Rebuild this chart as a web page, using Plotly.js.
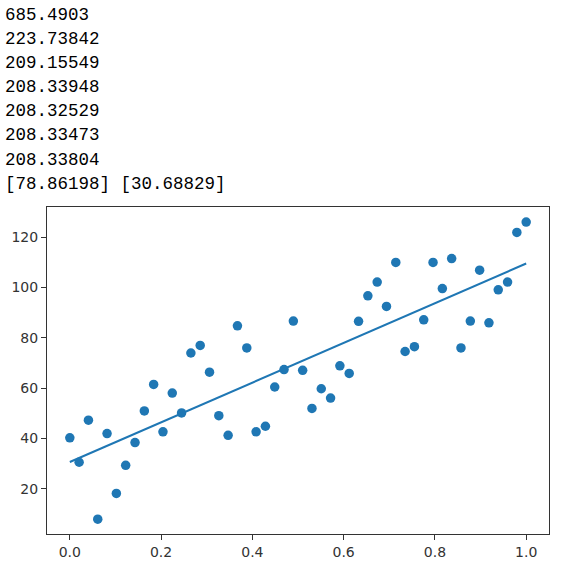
<!DOCTYPE html>
<html>
<head>
<meta charset="utf-8">
<script src="https://cdn.plot.ly/plotly-3.0.1.min.js"></script>
<style>
  html, body { margin: 0; padding: 0; background: #fff; width: 565px; height: 574px; overflow: hidden; }
  #out { position: absolute; left: 5px; top: 3px; font-family: "Liberation Mono", "DejaVu Sans Mono", monospace; font-size: 17.5px; line-height: 24.1px; color: #000; white-space: pre; z-index: 2; pointer-events: none; }
  #chart { position: absolute; left: 0; top: 0; width: 565px; height: 574px; }
</style>
</head>
<body>
<div id="out"></div>
<div id="chart"></div>
<script>
// printed output lines
const outputLines = [
  "685.4903",
  "223.73842",
  "209.15549",
  "208.33948",
  "208.32529",
  "208.33473",
  "208.33804",
  "[78.86198] [30.68829]"
];

// scatter data: 50 points, x = 0 .. 1 evenly spaced
const xValues = [
  0.0000, 0.0204, 0.0408, 0.0612, 0.0816, 0.1020, 0.1224, 0.1429, 0.1633, 0.1837,
  0.2041, 0.2245, 0.2449, 0.2653, 0.2857, 0.3061, 0.3265, 0.3469, 0.3673, 0.3878,
  0.4082, 0.4286, 0.4490, 0.4694, 0.4898, 0.5102, 0.5306, 0.5510, 0.5714, 0.5918,
  0.6122, 0.6327, 0.6531, 0.6735, 0.6939, 0.7143, 0.7347, 0.7551, 0.7755, 0.7959,
  0.8163, 0.8367, 0.8571, 0.8776, 0.8980, 0.9184, 0.9388, 0.9592, 0.9796, 1.0000
];
const yValues = [
  40.3, 30.6, 47.3, 8.0, 42.0, 18.2, 29.4, 38.4, 51.0, 61.5,
  42.7, 58.1, 50.2, 74.0, 77.0, 66.4, 49.1, 41.3, 84.8, 76.0,
  42.7, 44.9, 60.5, 67.4, 86.7, 67.1, 52.0, 59.8, 56.1, 68.9,
  65.9, 86.6, 96.7, 102.2, 92.5, 110.0, 74.6, 76.5, 87.2, 110.0,
  99.6, 111.5, 76.0, 86.7, 106.9, 86.0, 99.1, 102.2, 121.9, 126.0
];

// fitted line endpoints (w = 78.86198, b = 30.68829)
const lineX = [0, 1];
const lineY = [30.68829, 109.55027];

const xTickVals = [0, 0.2, 0.4, 0.6, 0.8, 1.0];
const xTickText = ["0.0", "0.2", "0.4", "0.6", "0.8", "1.0"];
const yTickVals = [20, 40, 60, 80, 100, 120];
const yTickText = ["20", "40", "60", "80", "100", "120"];

document.getElementById('out').textContent = outputLines.join("\n");

const traces = [
  {
    x: xValues, y: yValues, type: 'scatter', mode: 'markers',
    marker: { color: '#1f77b4', size: 9.5 },
    hoverinfo: 'skip'
  },
  {
    x: lineX, y: lineY, type: 'scatter', mode: 'lines',
    line: { color: '#1f77b4', width: 2 },
    hoverinfo: 'skip'
  }
];

const axisCommon = {
  showgrid: false, zeroline: false,
  showline: true, mirror: true, linecolor: '#333', linewidth: 1,
  ticks: 'outside', ticklen: 5, tickwidth: 1, tickcolor: '#333',
  tickfont: { family: 'DejaVu Sans', size: 14, color: '#333' }
};

const layout = {
  width: 565, height: 574,
  margin: { l: 47, r: 16, t: 207, b: 40, pad: 0 },
  paper_bgcolor: '#fff', plot_bgcolor: '#fff',
  showlegend: false,
  xaxis: Object.assign({}, axisCommon, {
    range: [-0.05, 1.05], tickmode: 'array', tickvals: xTickVals, ticktext: xTickText
  }),
  yaxis: Object.assign({}, axisCommon, {
    range: [2.1, 132.0], tickmode: 'array', tickvals: yTickVals, ticktext: yTickText
  })
};

Plotly.newPlot('chart', traces, layout, { staticPlot: true, displayModeBar: false });
</script>
</body>
</html>
